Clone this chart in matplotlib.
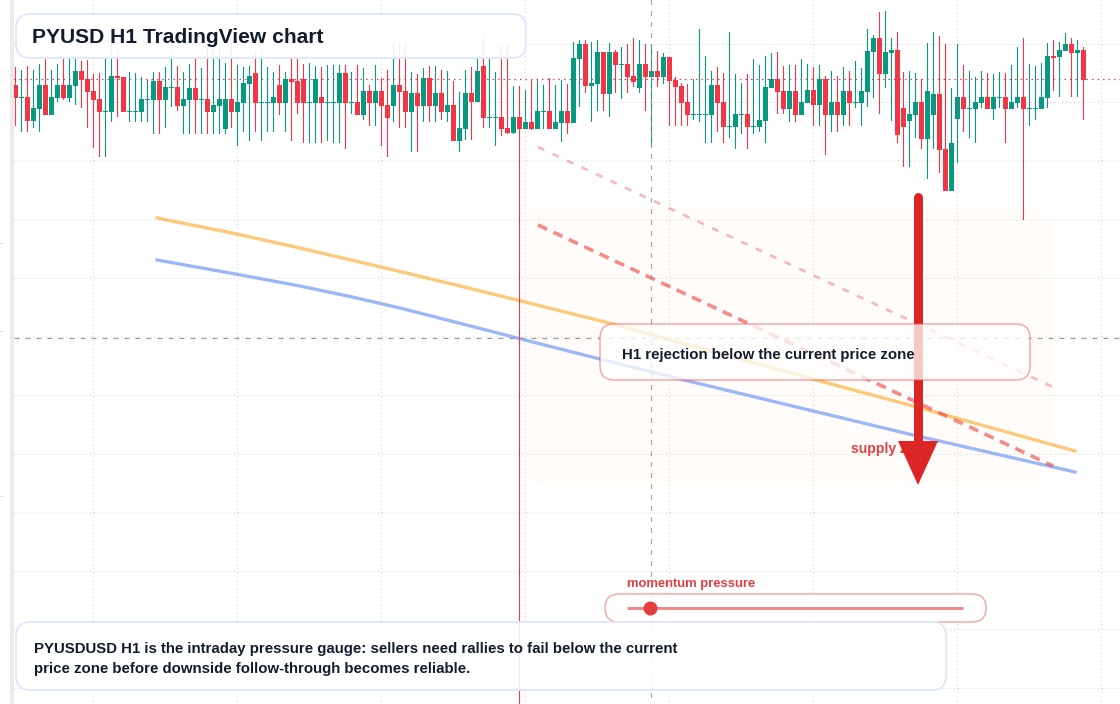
#! /usr/bin/env python3

import matplotlib
matplotlib.use("Agg")
import matplotlib.pyplot as plt
from matplotlib.colors import to_rgba
from matplotlib.patches import FancyBboxPatch, Rectangle

# the y axis runs top-down, values are read straight off the picture
sides = (
    "RGRGGRGGRG" "GRRRRGGRRG" "GGGGRGGRGG" "RGRGGGRGGG" "RGGGRGRRRG" "GRGGGRGRGR"
    "GRRGRRGRGR" "GRGRGGRGRG" "GRRGRGRGGR" "GGRGGRGGRG" "RGRRGRGRGR" "RRRGGGGRRG"
    "GGRGGGGRRG" "RGGRGRGRGR" "GGGGRGGRRG" "GRGGRRGGRG" "GGRGGRGGRG" "GGGRGGRGR"
)

wick_top = [
    67, 70, 66, 70, 64, 59, 70, 64, 59, 53, 59, 61, 60, 74, 73, 58, 43, 50, 77, 72,
    73, 77, 80, 72, 72, 67, 50, 66, 72, 64, 58, 68, 46, 46, 43, 63, 43, 65, 67, 66,
    51, 50, 67, 72, 65, 72, 58, 58, 64, 63, 66, 67, 65, 65, 65, 65, 72, 65, 68, 85,
    65, 78, 70, 43, 43, 43, 72, 74, 68, 66, 66, 70, 71, 81, 92, 70, 67, 58, 38, 58,
    72, 45, 45, 86, 86, 90, 80, 80, 85, 78, 85, 80, 84, 42, 40, 40, 42, 40, 52, 43,
    50, 47, 44, 38, 40, 44, 44, 51, 53, 57, 77, 83, 84, 79, 29, 56, 71, 67, 73, 32,
    74, 83, 74, 59, 65, 56, 53, 52, 66, 65, 65, 59, 64, 67, 65, 76, 71, 76, 67, 71,
    61, 68, 29, 35, 12, 11, 38, 32, 72, 71, 73, 79, 43, 32, 36, 44, 88, 44, 65, 71,
    77, 71, 73, 74, 72, 73, 65, 47, 38, 64, 66, 63, 43, 40, 42, 33, 38, 40, 47,
]
wick_bottom = [
    126, 132, 132, 128, 132, 115, 115, 102, 100, 102, 105, 108, 128, 148, 157, 157, 122, 117, 112, 122,
    122, 122, 122, 134, 134, 128, 107, 111, 134, 134, 134, 134, 134, 134, 134, 134, 128, 146, 132, 141,
    132, 141, 132, 132, 115, 132, 141, 114, 143, 143, 143, 143, 141, 143, 143, 149, 114, 115, 120, 126,
    126, 146, 157, 122, 128, 128, 152, 152, 122, 122, 122, 120, 122, 141, 152, 140, 140, 102, 128, 128,
    146, 136, 134, 134, 712, 129, 130, 129, 129, 129, 129, 142, 134, 123, 107, 93, 122, 111, 111, 117,
    93, 99, 93, 87, 93, 111, 147, 87, 84, 126, 126, 126, 126, 120, 122, 143, 143, 132, 143, 138,
    149, 134, 149, 134, 132, 143, 88, 114, 114, 122, 122, 115, 103, 126, 126, 155, 132, 132, 126, 126,
    108, 126, 107, 98, 114, 88, 121, 143, 167, 167, 138, 149, 179, 149, 173, 191, 191, 163, 132, 138,
    143, 108, 109, 120, 108, 143, 109, 108, 220, 126, 120, 109, 108, 91, 97, 51, 97, 97, 120,
]
body_top = [
    85, 97, 97, 108, 85, 85, 97, 85, 85, 85, 71, 71, 79, 91, 99, 111, 76, 76, 77, 111,
    111, 99, 99, 81, 81, 87, 87, 87, 99, 88, 88, 99, 99, 105, 99, 99, 99, 102, 83, 76,
    73, 102, 102, 97, 85, 79, 79, 81, 79, 102, 79, 97, 102, 102, 73, 73, 102, 102, 91, 91,
    91, 91, 105, 85, 85, 91, 93, 93, 78, 78, 93, 93, 105, 105, 128, 93, 93, 71, 66, 117,
    117, 117, 128, 117, 117, 122, 122, 111, 111, 111, 122, 111, 111, 58, 44, 44, 83, 52, 52, 52,
    52, 64, 64, 76, 64, 64, 71, 71, 57, 57, 80, 86, 102, 114, 114, 114, 85, 85, 102, 126,
    114, 114, 114, 126, 120, 87, 79, 79, 91, 91, 91, 102, 90, 90, 79, 79, 102, 102, 91, 91,
    102, 91, 51, 38, 38, 52, 50, 50, 108, 114, 102, 102, 91, 94, 94, 149, 143, 97, 97, 108,
    102, 97, 97, 97, 97, 97, 102, 97, 97, 108, 108, 97, 56, 56, 50, 44, 44, 50, 50,
]
body_bottom = [
    98, 98, 121, 121, 109, 115, 115, 98, 98, 98, 86, 80, 92, 100, 112, 112, 112, 78, 112, 112,
    112, 112, 100, 100, 100, 100, 88, 106, 106, 100, 100, 100, 112, 112, 106, 129, 112, 112, 103, 84,
    103, 103, 103, 103, 103, 103, 82, 103, 103, 103, 103, 103, 103, 103, 103, 103, 103, 115, 115, 103,
    103, 106, 118, 106, 92, 112, 112, 106, 106, 106, 106, 112, 112, 141, 141, 129, 102, 102, 118, 118,
    118, 129, 133, 133, 129, 129, 129, 129, 112, 129, 129, 123, 123, 123, 59, 86, 86, 84, 94, 94,
    65, 65, 77, 82, 88, 77, 77, 77, 77, 81, 87, 103, 115, 115, 115, 115, 115, 103, 127, 127,
    127, 115, 127, 127, 127, 121, 88, 92, 109, 109, 115, 115, 103, 105, 105, 115, 115, 115, 115, 103,
    103, 103, 92, 52, 74, 74, 53, 135, 127, 121, 115, 139, 139, 115, 150, 191, 191, 119, 109, 109,
    109, 103, 109, 109, 98, 109, 109, 103, 109, 109, 109, 109, 98, 58, 57, 51, 53, 53, 80,
]

orange_x = [157, 230, 300, 400, 460, 519, 613, 820, 913, 1075]
orange_curve = [218, 232.6, 248, 271.5, 286, 300.5, 324, 381, 406, 451]
blue_x = [157, 230, 265, 300, 350, 400, 445, 490, 519, 590, 680, 913, 1075]
blue_curve = [260, 273, 279.5, 286, 296.5, 308, 319.5, 331, 338.5, 356.5, 379, 435, 472]

trend_x = [538, 1053]
trend_strong = [225, 466]
trend_faint = [147, 387]

momentum_value = 0.068

px = 0.72
INK = "#111c2e"
RED = "#f23645"
GREEN = "#089981"
ARROW = "#dc2626"
LABEL = "#e53e3e"
BLUE_EDGE = "#dce8fc"
GRID = "#d6d6d6"

plt.rcParams["font.family"] = ["Liberation Sans", "DejaVu Sans"]
plt.rcParams["lines.scale_dashes"] = False


def round_box(ax, x, y, w, h, r, face_alpha, edge, lw, z):
    ax.add_patch(FancyBboxPatch((x, y), w, h, boxstyle=f"round,pad=0,rounding_size={r}",
                                facecolor=to_rgba("white", face_alpha), edgecolor=edge,
                                linewidth=lw * px, zorder=z))


def main():

    fig = plt.figure(figsize=(11.2, 7.04), dpi=100)
    ax = fig.add_axes([0, 0, 1, 1])
    ax.set_xlim(0, 1120)
    ax.set_ylim(704, 0)
    ax.axis("off")

    # grid
    dots = (0, (1.2 * px, 2.8 * px))
    for y in (44.5, 102.5, 161, 220, 278.5, 337, 395.5, 454.5, 513, 571.5, 629.5, 688.5):
        ax.plot([14, 1120], [y, y], color=GRID, lw=px, ls=dots, snap=False, zorder=1)
    for x in (93.5, 237.5, 381.5, 525.5, 669.5, 813.5, 957.5, 1101.5):
        ax.plot([x, x], [0, 704], color=GRID, lw=px, ls=dots, snap=False, zorder=1)

    # pale zone behind the trend lines
    ax.add_patch(FancyBboxPatch((525, 207), 527, 278, boxstyle="round,pad=0,rounding_size=22",
                                facecolor="#fffcfa", edgecolor="none", zorder=0.5))

    ax.plot(orange_x, orange_curve, color="#fdc878", lw=3.3 * px, zorder=2)
    ax.plot(blue_x, blue_curve, color="#9cb6f7", lw=3.3 * px, zorder=2)
    ax.plot(trend_x, trend_strong, color="#ef4444", alpha=0.62, lw=3.6 * px,
            ls=(0, (10 * px, 7 * px)), zorder=2.2)
    ax.plot(trend_x, trend_faint, color="#ef4444", alpha=0.38, lw=2.6 * px,
            ls=(0, (7 * px, 9 * px)), zorder=2.2)

    # last price line
    ax.plot([14, 1120], [79.5, 79.5], color=RED, lw=1.2 * px, ls=(0, (1.5 * px, 4 * px)), snap=False, zorder=2.5)

    # candles
    for i, side in enumerate(sides):
        x = 15.5 + 6 * i
        color = GREEN if side == "G" else RED
        ax.plot([x, x], [wick_top[i], wick_bottom[i]], color=color, lw=1.1 * px,
                solid_capstyle="butt", snap=False, zorder=3)
        ax.add_patch(Rectangle((x - 2.5, body_top[i]), 5, body_bottom[i] - body_top[i],
                               facecolor=color, edgecolor="none", snap=False, zorder=3.1))

    # crosshair
    ax.plot([14, 1120], [338, 338], color="#9a9a9a", lw=1.2 * px, ls=(0, (5 * px, 6 * px)), zorder=3.4)
    ax.plot([651.5, 651.5], [0, 704], color="#9a9a9a", alpha=0.85, lw=1.2 * px,
            ls=(0, (5 * px, 6 * px)), snap=False, zorder=3.4)

    # left strip
    ax.add_patch(Rectangle((10, 0), 4, 704, facecolor="#ebebeb", edgecolor="none", zorder=3.6))
    for y in (242.5, 331, 496):
        ax.plot([0, 2], [y, y], color="#dcdcdc", lw=px, zorder=3.6)

    # supply label sits under the arrow head
    ax.text(851, 453, "supply zone", color=LABEL, fontsize=14 * px, fontweight="bold", zorder=3.8)
    ax.plot([918, 918], [197, 445], color=ARROW, lw=9 * px, solid_capstyle="round", zorder=4)
    ax.fill([898, 938, 918], [441, 441, 485], color=ARROW, lw=0, zorder=4)

    # boxes
    round_box(ax, 600, 324, 430, 56, 14, 0.75, to_rgba("#ef4444", 0.5), 1.4, 5)
    ax.text(622, 359, "H1 rejection below the current price zone", color=INK,
            fontsize=15 * px, fontweight="bold", zorder=5.1)

    round_box(ax, 16, 14, 510, 44, 14, 0.9, BLUE_EDGE, 1.8, 5)
    ax.text(32, 43, "PYUSD H1 TradingView chart", color=INK, fontsize=21 * px,
            fontweight="bold", zorder=5.1)

    round_box(ax, 605, 594, 381, 28, 14, 0.9, to_rgba("#ef4444", 0.5), 1.4, 5)
    ax.text(627, 587, "momentum pressure", color=LABEL, fontsize=13 * px, fontweight="bold", zorder=5.1)
    ax.plot([627, 963], [607.5, 607.5], color="#ef8a8a", lw=3 * px, solid_capstyle="butt", zorder=5.1)
    ax.plot([627 + 336 * momentum_value], [607.5], "o", color="#e53e3e", ms=14 * px, mew=0, zorder=5.2)

    round_box(ax, 16, 622, 930, 68, 14, 0.9, BLUE_EDGE, 1.8, 5.3)
    ax.text(34, 653, "PYUSDUSD H1 is the intraday pressure gauge: sellers need rallies to fail below the current",
            color=INK, fontsize=15.05 * px, fontweight="bold", zorder=5.4)
    ax.text(34, 673, "price zone before downside follow-through becomes reliable.",
            color=INK, fontsize=15.05 * px, fontweight="bold", zorder=5.4)

    fig.savefig("out.png", dpi=100)


if __name__ == "__main__":
    main()
